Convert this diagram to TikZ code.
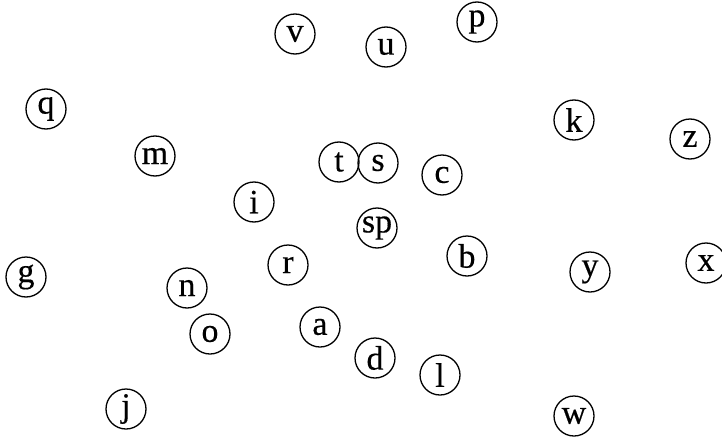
\documentclass[tikz,border=0pt]{standalone}
\usepackage{fontspec}
\setmainfont[FakeBold=0.4]{Liberation Serif}
\begin{document}
\begin{tikzpicture}[x=1pt,y=-1pt,
  letter/.style={circle,draw,line width=1.3pt,minimum size=40pt,inner sep=0pt,
    font=\fontsize{34}{36}\selectfont}]
\useasboundingbox (0,0) rectangle (722,444);
\node[letter] (v) at (295,34) {v};
\node[letter] (u) at (386,47) {u};
\node[letter] (p) at (477,22) {p};
\node[letter] (q) at (46,109) {q};
\node[letter] (k) at (574,120) {k};
\node[letter] (z) at (690,139) {z};
\node[letter] (m) at (155,156) {m};
\node[letter] (t) at (339,162) {t};
\node[letter] (s) at (378,163) {s};
\node[letter] (c) at (442,175) {c};
\node[letter] (i) at (254,202) {i};
\node[letter] (sp) at (377,228) {sp};
\node[letter] (b) at (467,256) {b};
\node[letter] (g) at (26,277) {g};
\node[letter] (r) at (288,265) {r};
\node[letter] (y) at (590,272) {y};
\node[letter] (x) at (706,263) {x};
\node[letter] (n) at (187,288) {n};
\node[letter] (o) at (210,334) {o};
\node[letter] (a) at (320,327) {a};
\node[letter] (d) at (375,358) {d};
\node[letter] (l) at (440,375) {l};
\node[letter] (j) at (126,409) {j};
\node[letter] (w) at (574,416) {w};
\end{tikzpicture}
\end{document}
